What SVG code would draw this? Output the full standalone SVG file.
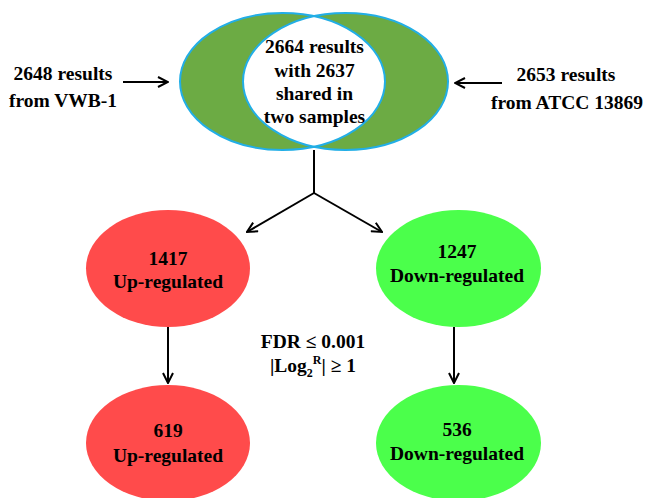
<svg xmlns="http://www.w3.org/2000/svg" width="647" height="498" viewBox="0 0 647 498">
<style>
text{font-family:"Liberation Serif","Times New Roman",serif;font-weight:bold;font-size:19.5px;fill:#000;text-anchor:middle}
.c{stroke:#000;stroke-width:2;fill:none}
.red{fill:#FF4B4B}
.grn{fill:#4BFF4B}
</style>
<defs>
<marker id="ah" viewBox="0 0 12 12" refX="11" refY="6" markerWidth="12" markerHeight="12" markerUnits="userSpaceOnUse" orient="auto">
<polyline points="1,1 11,6 1,11" fill="none" stroke="#000" stroke-width="2"/>
</marker>
<clipPath id="cl"><ellipse cx="282.5" cy="81.5" rx="102.5" ry="68.5"/></clipPath>
</defs>
<rect width="647" height="498" fill="#fff"/>
<g id="venn">
<ellipse cx="282.5" cy="81.5" rx="102.5" ry="68.5" fill="#6CAB44"/>
<ellipse cx="345.5" cy="81.5" rx="102.5" ry="68.5" fill="#6CAB44"/>
<ellipse cx="345.5" cy="81.5" rx="102.5" ry="68.5" fill="#fff" clip-path="url(#cl)"/>
<ellipse cx="282.5" cy="81.5" rx="102.5" ry="68.5" fill="none" stroke="#22AEE6" stroke-width="2"/>
<ellipse cx="345.5" cy="81.5" rx="102.5" ry="68.5" fill="none" stroke="#22AEE6" stroke-width="2"/>
<text x="314.5" y="53">2664 results</text>
<text x="314.5" y="77">with 2637</text>
<text x="314.5" y="100">shared in</text>
<text x="314.5" y="123">two samples</text>
</g>
<g id="vwb">
<text x="63" y="80">2648 results</text>
<text x="63" y="107">from VWB-1</text>
</g>
<g id="atcc">
<text x="566" y="81">2653 results</text>
<text x="567" y="109">from ATCC 13869</text>
</g>
<g id="connectors">
<line class="c" x1="123" y1="82" x2="168" y2="82" marker-end="url(#ah)"/>
<line class="c" x1="502" y1="83" x2="455" y2="83" marker-end="url(#ah)"/>
<polyline class="c" points="314,150 314,193"/>
<line class="c" x1="314" y1="193" x2="247" y2="232" marker-end="url(#ah)"/>
<line class="c" x1="314" y1="193" x2="382" y2="232" marker-end="url(#ah)"/>
<line class="c" x1="168" y1="327" x2="168" y2="383" marker-end="url(#ah)"/>
<line class="c" x1="454" y1="327" x2="454" y2="383" marker-end="url(#ah)"/>
</g>
<g id="up1">
<ellipse class="red" cx="168" cy="268.5" rx="82" ry="58.5"/>
<text x="168" y="265">1417</text>
<text x="168" y="288">Up-regulated</text>
</g>
<g id="down1">
<ellipse class="grn" cx="458.5" cy="268.5" rx="82.5" ry="58.5"/>
<text x="457" y="258">1247</text>
<text x="457" y="282">Down-regulated</text>
</g>
<g id="criteria">
<text x="313" y="348">FDR ≤ 0.001</text>
<text x="313" y="372">|Log<tspan font-size="12" dy="5">2</tspan><tspan font-size="12" dy="-13">R</tspan><tspan dy="8">| ≥ 1</tspan></text>
</g>
<g id="up2">
<ellipse class="red" cx="168" cy="443" rx="82" ry="58"/>
<text x="168" y="437">619</text>
<text x="168" y="462">Up-regulated</text>
</g>
<g id="down2">
<ellipse class="grn" cx="458.5" cy="443" rx="82.5" ry="58"/>
<text x="457" y="436">536</text>
<text x="457" y="460">Down-regulated</text>
</g>
</svg>
